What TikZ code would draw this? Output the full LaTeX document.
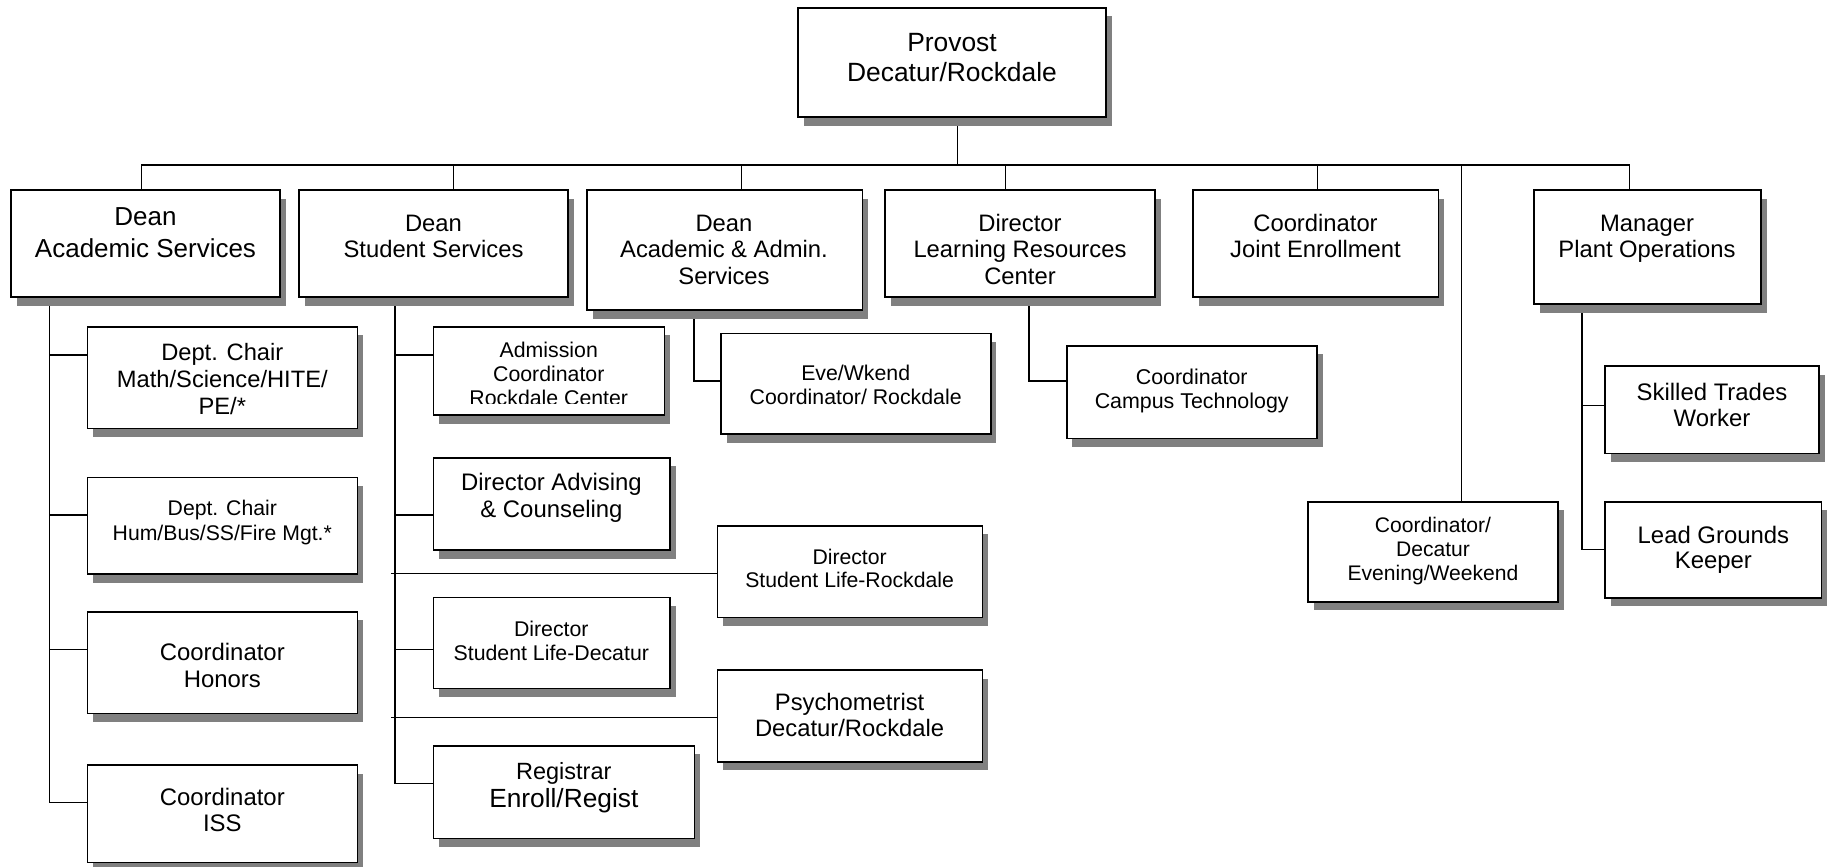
\documentclass[tikz,border=0pt]{standalone}
\usepackage{fontspec}
\setmainfont{Liberation Sans}
\usetikzlibrary{shadows}
\pgfdeclarelayer{bg}
\pgfdeclarelayer{paper}
\pgfsetlayers{paper,bg,main}
\newcommand\fsz[2]{\fontsize{#1}{#2}\selectfont}
\definecolor{shadowgray}{HTML}{808080}
\begin{document}
\begin{tikzpicture}[x=1pt,y=-1pt,
  box/.style={draw=black, line width=1.6pt, fill=white, inner sep=0pt, outer sep=0pt, rectangle,
    drop shadow={shadow xshift=5.5pt, shadow yshift=-8.5pt, fill=shadowgray, opacity=1}},
  txt/.style={inner sep=0pt, align=center, anchor=north},
  conn/.style={draw=black, line width=1.2pt}]
\useasboundingbox (0,0) rectangle (1832,867);
\begin{pgfonlayer}{paper}
\fill[white] (0,0) rectangle (1832,867);
\end{pgfonlayer}

% ---- top level ----
\node[box, minimum width=308pt, minimum height=109pt] (prov) at (952,62.5) {};
\node[txt, font=\fsz{26.4}{30}] (provT) at (952,30.7) {\strut Provost\\Decatur/Rockdale};

% ---- second level ----
\node[box, minimum width=269pt, minimum height=107pt] (das) at (145.5,243.5) {};
\node[txt, font=\fsz{26}{31.5}] (dasT) at (145.5,203.7) {\strut Dean\\Academic Services};
\node[box, minimum width=269pt, minimum height=107pt] (dss) at (433.5,243.5) {};
\node[txt, font=\fsz{23.8}{26}] (dssT) at (433.5,212.8) {\strut Dean\\Student Services};
\node[box, minimum width=275.5pt, minimum height=120pt] (daas) at (724.75,250) {};
\node[txt, font=\fsz{23.8}{26.7}] (daasT) at (724,212.3) {\strut Dean\\Academic \& Admin.\\Services};
\node[box, minimum width=270pt, minimum height=107pt] (dlrc) at (1020,243.5) {};
\node[txt, font=\fsz{23.8}{26.7}] (dlrcT) at (1020,212.3) {\strut Director\\Learning Resources\\Center};
\node[box, minimum width=245.5pt, minimum height=107pt] (je) at (1315.75,243.5) {};
\node[txt, font=\fsz{23.8}{26.7}] (jeT) at (1315.5,212.3) {\strut Coordinator\\Joint Enrollment};
\node[box, minimum width=227pt, minimum height=114pt] (mpo) at (1647.5,247) {};
\node[txt, font=\fsz{23.8}{26}] (mpoT) at (1647,212.8) {\strut Manager\\Plant Operations};

% ---- academic services column ----
\node[box, minimum width=270pt, minimum height=101.6pt] (math) at (222.3,377.5) {};
\node[txt, font=\fsz{23.7}{26.7}] (mathT) at (222.3,342) {\strut Dept. Chair\\Math/Science/HITE/\hspace*{18pt}\\PE/*};
\node[box, minimum width=270pt, minimum height=96.7pt] (hum) at (222.3,525.65) {};
\node[txt, font=\fsz{21.2}{25}] (humT) at (222.3,497.5) {\strut Dept. Chair\\Hum/Bus/SS/Fire Mgt.*};
\node[box, minimum width=270pt, minimum height=101.6pt] (hon) at (222.3,662.5) {};
\node[txt, font=\fsz{23.9}{26.6}] (honT) at (222.3,642.1) {\strut Coordinator\\Honors};
\node[box, minimum width=270pt, minimum height=97.4pt] (iss) at (222.3,813.7) {};
\node[txt, font=\fsz{23.9}{26}] (issT) at (222.3,787.5) {\strut Coordinator\\ISS};

% ---- student services column ----
\node[box, minimum width=231pt, minimum height=88.3pt] (adm) at (548.8,370.85) {};
\begin{scope}
\clip (430,330) rectangle (670,403.2);
\node[txt, font=\fsz{21.3}{24}] (admT) at (548.8,340.5) {\strut Admission\\Coordinator\\Rockdale Center};
\end{scope}
\node[box, minimum width=236.7pt, minimum height=92.3pt] (adv) at (551.65,503.85) {};
\node[txt, font=\fsz{23.9}{26.6}] (advT) at (551.5,472.1) {\strut Director Advising\\\& Counseling};
\node[box, minimum width=236.7pt, minimum height=91pt] (sld) at (551.65,642.8) {};
\node[txt, font=\fsz{21.3}{24}] (sldT) at (551.3,619.2) {\strut Director\\Student Life-Decatur};
\node[box, minimum width=261pt, minimum height=92.6pt] (reg) at (563.8,792) {};
\node[txt, font=\fsz{23.5}{28.3}] (regT) at (563.8,759.2) {\strut Registrar\\{\fsz{26.3}{28.3}Enroll/Regist}};

% ---- middle column ----
\node[box, minimum width=269.7pt, minimum height=100.7pt] (eve) at (855.85,383.65) {};
\node[txt, font=\fsz{21.3}{24}] (eveT) at (855.7,363.2) {\strut Eve/Wkend\\Coordinator/ Rockdale};
\node[box, minimum width=265pt, minimum height=91.6pt] (slr) at (849.8,571.5) {};
\node[txt, font=\fsz{21.2}{23.7}] (slrT) at (849.6,547.4) {\strut Director\\Student Life-Rockdale};
\node[box, minimum width=265pt, minimum height=91.7pt] (psy) at (849.8,715.85) {};
\node[txt, font=\fsz{23.8}{26.7}] (psyT) at (849.6,691.3) {\strut Psychometrist\\Decatur/Rockdale};
\node[box, minimum width=250.3pt, minimum height=92.8pt] (ctech) at (1191.85,392.1) {};
\node[txt, font=\fsz{21.4}{24.3}] (ctechT) at (1191.7,367) {\strut Coordinator\\Campus Technology};

% ---- right side ----
\node[box, minimum width=250pt, minimum height=100pt] (cdec) at (1433,551.7) {};
\node[txt, font=\fsz{21.1}{23.7}] (cdecT) at (1433,516.1) {\strut Coordinator/\\Decatur\\Evening/Weekend};
\node[box, minimum width=213.8pt, minimum height=87.3pt] (skill) at (1712.1,409.65) {};
\node[txt, font=\fsz{23.9}{26.7}] (skillT) at (1712,381.3) {\strut Skilled Trades\\Worker};
\node[box, minimum width=216.4pt, minimum height=96pt] (lead) at (1713.4,549.7) {};
\node[txt, font=\fsz{23.9}{25}] (leadT) at (1713.4,525.8) {\strut Lead Grounds\\Keeper};

% ---- connectors ----
\begin{pgfonlayer}{bg}
\coordinate (busL) at (141.4,165);
\coordinate (busR) at (1629.8,165);
\draw[conn] (busL) -- (busR);
\draw[conn] ([xshift=5.7pt]prov.south) -- ([xshift=5.7pt]prov.south |- busL);
\draw[conn] (busL) -- (busL |- das.north);
\draw[conn] ([xshift=20pt]dss.north) -- ([xshift=20pt]dss.north |- busL);
\draw[conn] ([xshift=17pt]daas.north) -- ([xshift=17pt]daas.north |- busL);
\draw[conn] ([xshift=-14.3pt]dlrc.north) -- ([xshift=-14.3pt]dlrc.north |- busL);
\draw[conn] ([xshift=2pt]je.north) -- ([xshift=2pt]je.north |- busL);
\draw[conn] ([xshift=28.5pt]cdec.north) -- ([xshift=28.5pt]cdec.north |- busL);
\draw[conn] (busR) -- (busR |- mpo.north);

% academic services trunk
\coordinate (asB) at (49.2,802.3);
\draw[conn] (das.south -| asB) -- (asB) -- (asB -| iss.west);
\coordinate (as1) at (49.2,355);
\coordinate (as2) at (49.2,515);
\coordinate (as3) at (49.2,649.3);
\draw[conn] (as1) -- (as1 -| math.west);
\draw[conn] (as2) -- (as2 -| hum.west);
\draw[conn] (as3) -- (as3 -| hon.west);

% student services trunk
\coordinate (ssB) at (395,783.3);
\draw[conn] (dss.south -| ssB) -- (ssB) -- (ssB -| reg.west);
\coordinate (ss1) at (395,355);
\coordinate (ss2) at (395,515);
\coordinate (ss3) at (395,649.3);
\draw[conn] (ss1) -- (ss1 -| adm.west);
\draw[conn] (ss2) -- (ss2 -| adv.west);
\draw[conn] (ss3) -- (ss3 -| sld.west);
\coordinate (ssR) at (391,573.5);
\coordinate (ssP) at (391,717.5);
\draw[conn] (ssR) -- (ssR -| slr.west);
\draw[conn] (ssP) -- (ssP -| psy.west);

% academic & admin services
\coordinate (aasB) at (694,381);
\draw[conn] (daas.south -| aasB) -- (aasB) -- (aasB -| eve.west);

% learning resources
\coordinate (lrcB) at (1029,381);
\draw[conn] (dlrc.south -| lrcB) -- (lrcB) -- (lrcB -| ctech.west);

% plant operations
\coordinate (mB) at (1582,549.3);
\coordinate (m1) at (1582,405.5);
\draw[conn] (mpo.south -| mB) -- (mB) -- (mB -| lead.west);
\draw[conn] (m1) -- (m1 -| skill.west);
\end{pgfonlayer}
\end{tikzpicture}
\end{document}
